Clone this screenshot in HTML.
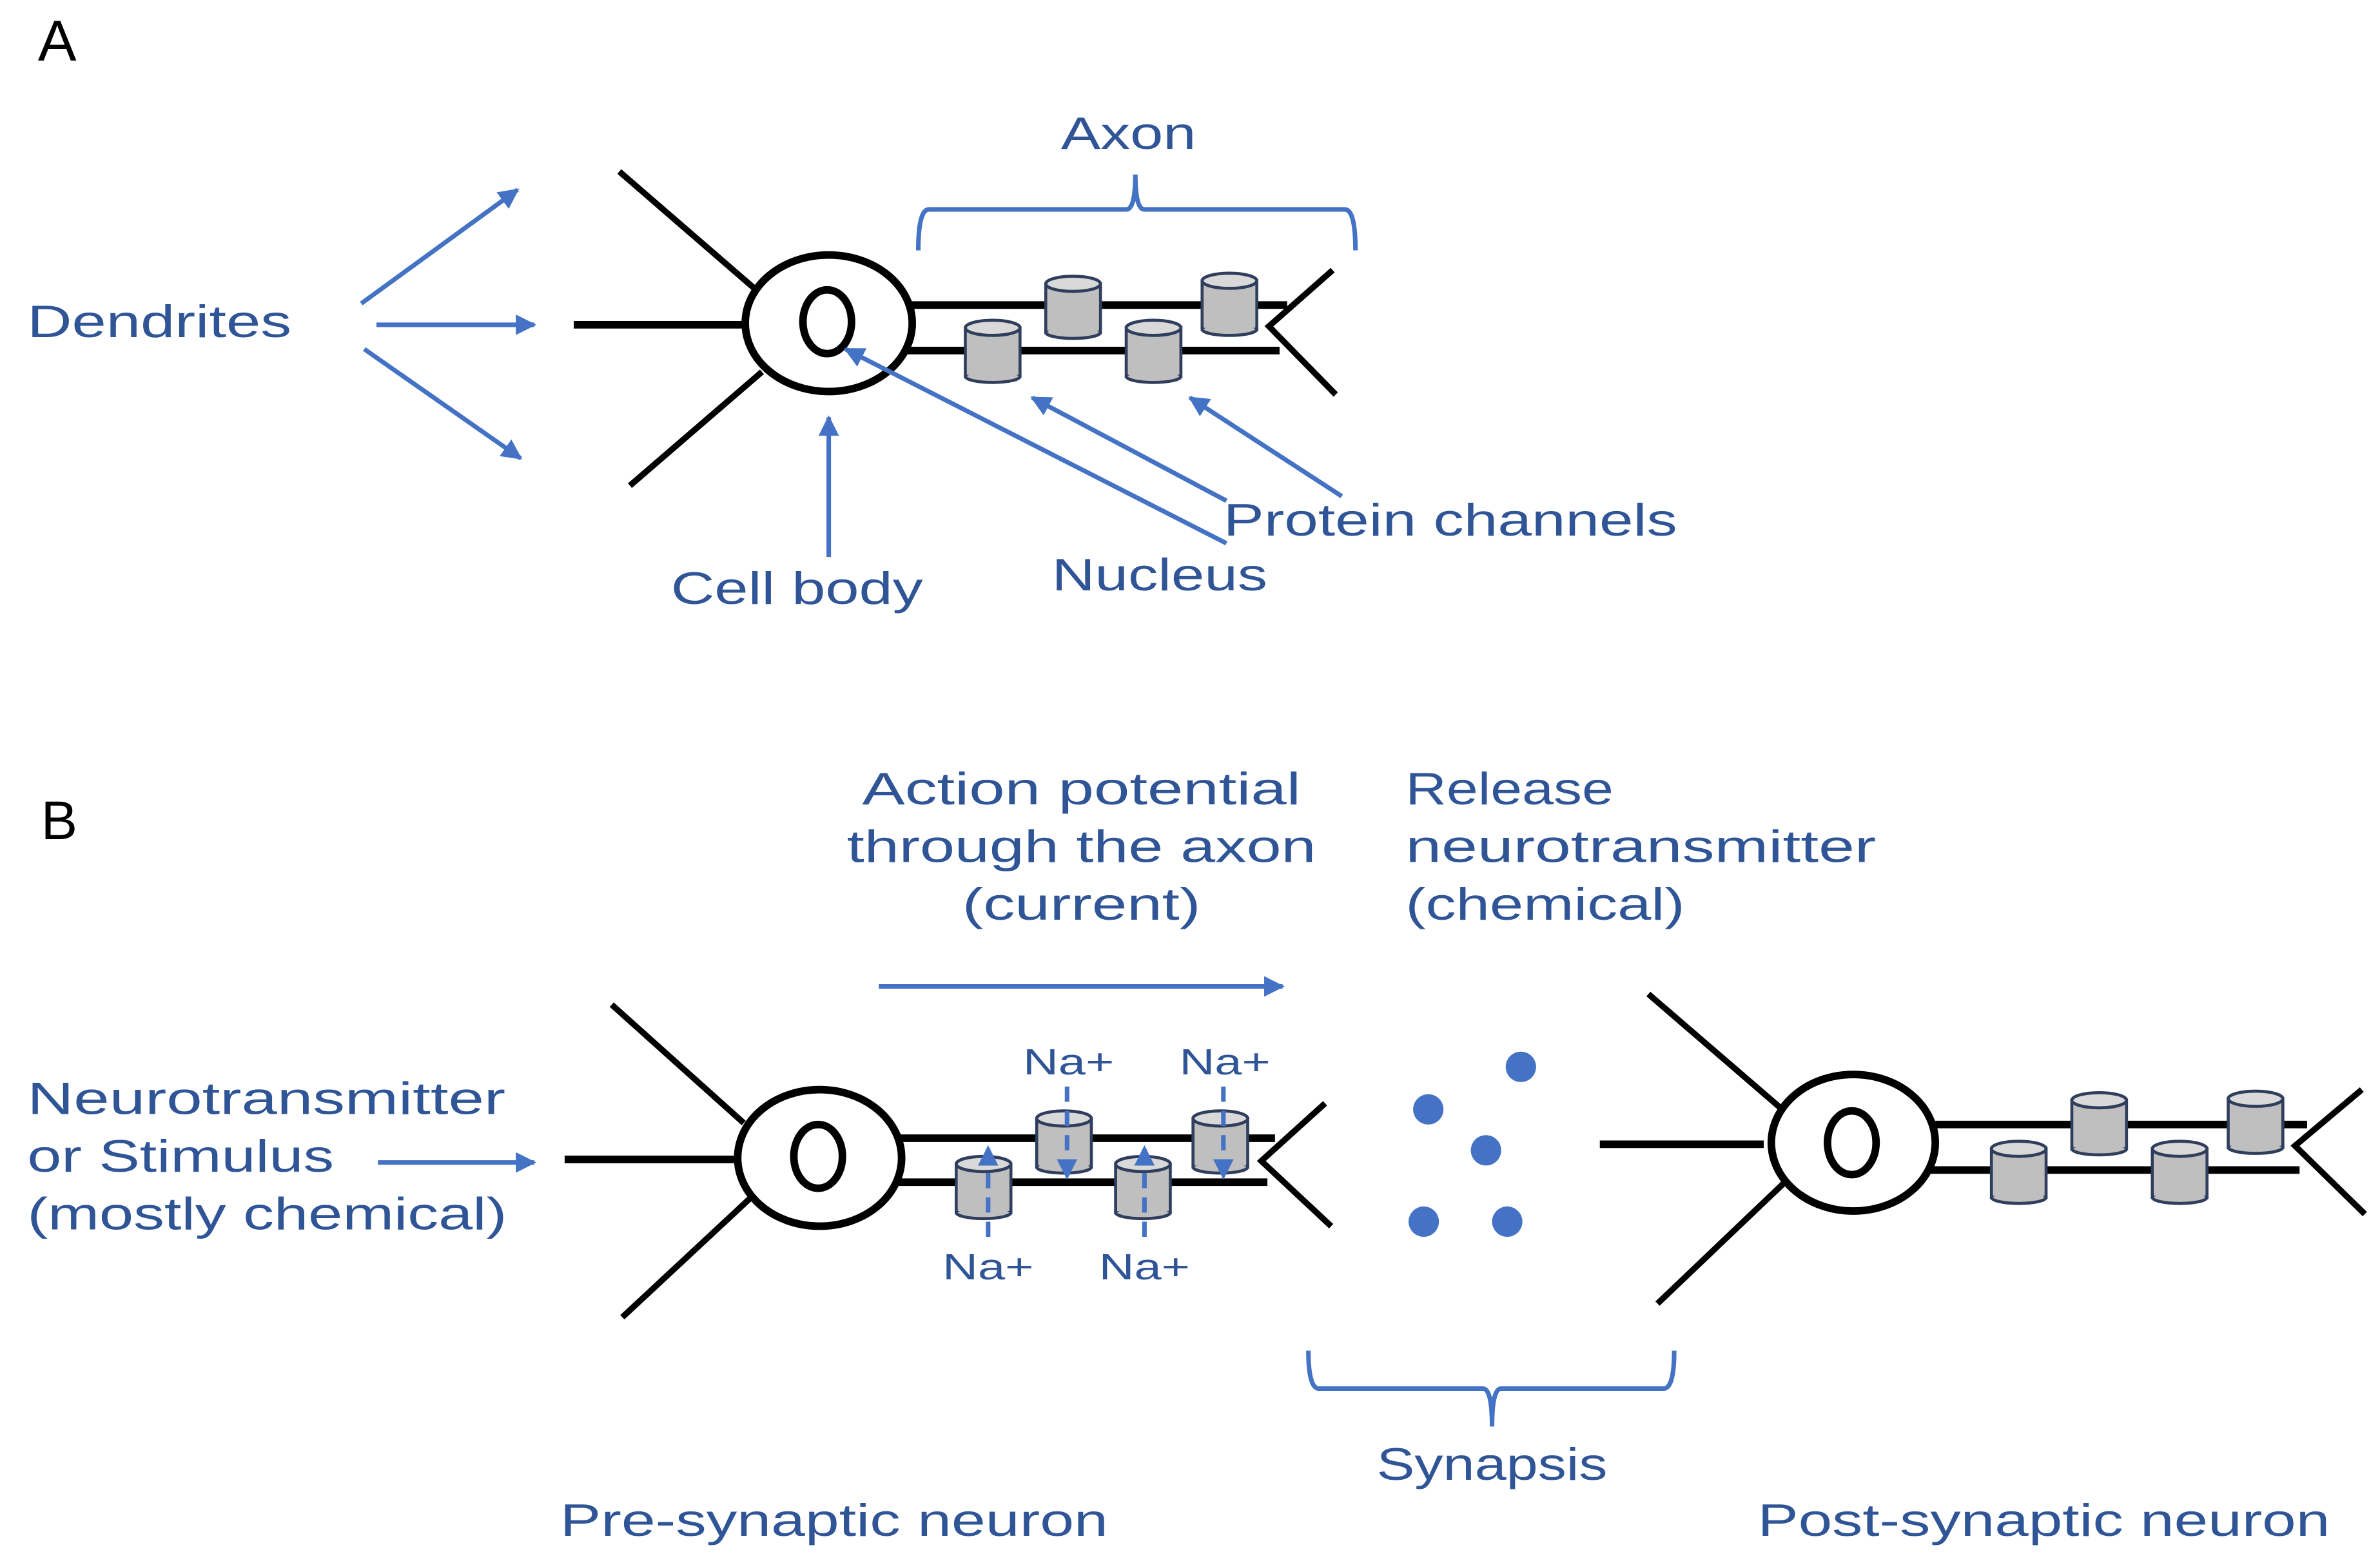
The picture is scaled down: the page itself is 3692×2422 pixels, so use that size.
<!DOCTYPE html>
<html><head><meta charset="utf-8"><style>html,body{margin:0;padding:0;background:#fff}svg{display:block}</style></head>
<body>
<svg width="3692" height="2422" viewBox="0 0 1568 1028.6" xmlns="http://www.w3.org/2000/svg" font-family="Liberation Sans, sans-serif">
<defs>
<marker id="ah" viewBox="0 0 10 10" refX="9" refY="5" markerWidth="4.5" markerHeight="4.5" orient="auto-start-reverse"><path d="M0,0 L10,5 L0,10 z" fill="#4472C4"/></marker>
<g id="cyl"><rect x="-18" y="0" width="36" height="32" fill="#BFBFBF" stroke="#2F3E5C" stroke-width="2"/><ellipse cx="0" cy="32" rx="18" ry="4" fill="#BFBFBF" stroke="#2F3E5C" stroke-width="2"/><rect x="-17" y="0" width="34" height="31" fill="#BFBFBF"/><ellipse cx="0" cy="0" rx="18" ry="5" fill="#D9D9D9" stroke="#2F3E5C" stroke-width="2"/></g>
</defs>
<g fill="#2F5597">
<text x="25" y="40" font-size="38" fill="#000">A</text>
<text x="27" y="553" font-size="36" fill="#000">B</text>
<text x="18" y="222" font-size="30" textLength="174" lengthAdjust="spacingAndGlyphs">Dendrites</text>
<text x="699" y="98" font-size="30" textLength="89" lengthAdjust="spacingAndGlyphs">Axon</text>
<text x="442" y="398" font-size="30" textLength="166" lengthAdjust="spacingAndGlyphs">Cell body</text>
<text x="806" y="353" font-size="30" textLength="299" lengthAdjust="spacingAndGlyphs">Protein channels</text>
<text x="693" y="389" font-size="30" textLength="142" lengthAdjust="spacingAndGlyphs">Nucleus</text>
<text x="568" y="530" font-size="30" textLength="289" lengthAdjust="spacingAndGlyphs">Action potential</text>
<text x="558" y="568" font-size="30" textLength="309" lengthAdjust="spacingAndGlyphs">through the axon</text>
<text x="634" y="606" font-size="30" textLength="157" lengthAdjust="spacingAndGlyphs">(current)</text>
<text x="926" y="530" font-size="30" textLength="137" lengthAdjust="spacingAndGlyphs">Release</text>
<text x="926" y="568" font-size="30" textLength="310" lengthAdjust="spacingAndGlyphs">neurotransmitter</text>
<text x="926" y="606" font-size="30" textLength="184" lengthAdjust="spacingAndGlyphs">(chemical)</text>
<text x="18" y="734" font-size="30" textLength="315" lengthAdjust="spacingAndGlyphs">Neurotransmitter</text>
<text x="18" y="772" font-size="30" textLength="202" lengthAdjust="spacingAndGlyphs">or Stimulus</text>
<text x="18" y="810" font-size="30" textLength="316" lengthAdjust="spacingAndGlyphs">(mostly chemical)</text>
<text x="674" y="708" font-size="24" textLength="60" lengthAdjust="spacingAndGlyphs">Na+</text>
<text x="777" y="708" font-size="24" textLength="60" lengthAdjust="spacingAndGlyphs">Na+</text>
<text x="621" y="843" font-size="24" textLength="60" lengthAdjust="spacingAndGlyphs">Na+</text>
<text x="724" y="843" font-size="24" textLength="60" lengthAdjust="spacingAndGlyphs">Na+</text>
<text x="907" y="975" font-size="30" textLength="152" lengthAdjust="spacingAndGlyphs">Synapsis</text>
<text x="369" y="1012" font-size="30" textLength="361" lengthAdjust="spacingAndGlyphs">Pre-synaptic neuron</text>
<text x="1158" y="1012" font-size="30" textLength="377" lengthAdjust="spacingAndGlyphs">Post-synaptic neuron</text>
</g>
<g stroke="#4472C4" stroke-width="3" fill="none">
<path d="M605,165 Q605,138 612,138 L742,138 Q748,138 748,115 Q748,138 754,138 L886,138 Q893,138 893,165"/>
<path d="M862,890 Q862,915 869,915 L977,915 Q983,915 983,940 Q983,915 989,915 L1096,915 Q1103,915 1103,890"/>
</g>
<!-- Neuron A -->
<g stroke="#000" stroke-width="4" fill="none">
<line x1="378" y1="214" x2="490" y2="214" stroke-width="5"/>
<line x1="408" y1="113" x2="497" y2="190"/>
<line x1="415" y1="320" x2="502" y2="245"/>
<line x1="600" y1="201" x2="848" y2="201" stroke-width="5"/>
<line x1="596" y1="231" x2="843" y2="231" stroke-width="5"/>
<polyline points="878,178 836,215 880,260"/>
<ellipse cx="546" cy="213" rx="55" ry="45" stroke-width="5" fill="#fff"/>
<ellipse cx="545" cy="212" rx="16" ry="21" stroke-width="5"/>
</g>
<use href="#cyl" x="707" y="187"/><use href="#cyl" x="810" y="185"/>
<use href="#cyl" x="654" y="216"/><use href="#cyl" x="760" y="216"/>
<!-- Pre neuron B -->
<g stroke="#000" stroke-width="4" fill="none">
<line x1="372" y1="764" x2="485" y2="764" stroke-width="5"/>
<line x1="403" y1="662" x2="490" y2="740"/>
<line x1="410" y1="868" x2="497" y2="787"/>
<line x1="592" y1="750" x2="840" y2="750" stroke-width="5"/>
<line x1="590" y1="779" x2="835" y2="779" stroke-width="5"/>
<polyline points="873,727 831,765 877,808"/>
<ellipse cx="540" cy="763" rx="54" ry="45" stroke-width="5" fill="#fff"/>
<ellipse cx="539" cy="762" rx="16" ry="21" stroke-width="5"/>
</g>
<use href="#cyl" x="701" y="737"/><use href="#cyl" x="804" y="737"/>
<use href="#cyl" x="648" y="767"/><use href="#cyl" x="753" y="767"/>
<g stroke="#4472C4" stroke-width="3" fill="none" marker-end="url(#ah)">
<line x1="238" y1="200" x2="341" y2="125"/>
<line x1="248" y1="214" x2="352" y2="214"/>
<line x1="240" y1="230" x2="343" y2="302"/>
<line x1="546" y1="367" x2="546" y2="275"/>
<line x1="808" y1="358" x2="557" y2="230"/>
<line x1="808" y1="330" x2="680" y2="262"/>
<line x1="884" y1="327" x2="784" y2="262"/>
<line x1="579" y1="650" x2="845" y2="650"/>
<line x1="249" y1="766" x2="352" y2="766"/>
</g>
<g stroke="#4472C4" stroke-width="3" fill="none" stroke-dasharray="10,6">
<line x1="703" y1="716" x2="703" y2="776" marker-end="url(#ah)"/>
<line x1="806" y1="716" x2="806" y2="776" marker-end="url(#ah)"/>
<line x1="651" y1="815" x2="651" y2="756" marker-end="url(#ah)"/>
<line x1="754" y1="815" x2="754" y2="756" marker-end="url(#ah)"/>
</g>
<g fill="#4472C4">
<circle cx="1002" cy="703" r="10"/><circle cx="941" cy="731" r="10"/><circle cx="979" cy="758" r="10"/><circle cx="938" cy="805" r="10"/><circle cx="993" cy="805" r="10"/>
</g>
<!-- Post neuron -->
<g stroke="#000" stroke-width="4" fill="none">
<line x1="1054" y1="754" x2="1162" y2="754" stroke-width="5"/>
<line x1="1086" y1="655" x2="1173" y2="730"/>
<line x1="1092" y1="859" x2="1178" y2="777"/>
<line x1="1275" y1="741" x2="1520" y2="741" stroke-width="5"/>
<line x1="1272" y1="771" x2="1515" y2="771" stroke-width="5"/>
<polyline points="1556,718 1512,755 1558,800"/>
<ellipse cx="1221" cy="753" rx="54" ry="45" stroke-width="5" fill="#fff"/>
<ellipse cx="1220" cy="753" rx="16" ry="21" stroke-width="5"/>
</g>
<use href="#cyl" x="1383" y="725"/><use href="#cyl" x="1486" y="724"/>
<use href="#cyl" x="1330" y="757"/><use href="#cyl" x="1436" y="757"/>
</svg>
</body></html>
